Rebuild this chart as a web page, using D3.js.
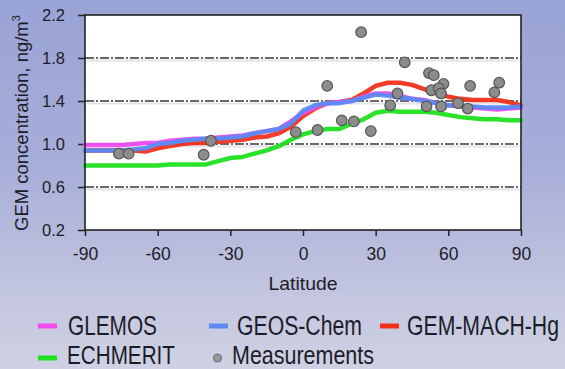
<!DOCTYPE html>
<html><head><meta charset="utf-8">
<script src="https://cdn.jsdelivr.net/npm/d3@7"></script>
<style>html,body{margin:0;padding:0;overflow:hidden;background:#aab0d8}svg{display:block}</style>
</head><body><svg id="c" width="565" height="369"></svg>
<script>
// ---- data ----
const latitudes = [-90,-85,-80,-75,-70,-65,-60,-55,-50,-45,-40,-35,-30,-25,-20,-15,-10,-5,0,5,10,15,20,25,30,35,40,45,50,55,60,65,70,75,80,85,90];
const glemos   = [0.99,0.99,0.99,0.99,1.00,1.01,1.01,1.03,1.04,1.05,1.05,1.06,1.07,1.08,1.10,1.12,1.14,1.21,1.29,1.34,1.38,1.39,1.40,1.44,1.47,1.47,1.45,1.42,1.41,1.38,1.36,1.35,1.34,1.33,1.32,1.33,1.34];
const geosChem = [0.94,0.94,0.94,0.94,0.95,0.96,1.00,1.01,1.03,1.04,1.05,1.05,1.06,1.07,1.10,1.12,1.14,1.19,1.31,1.36,1.38,1.38,1.40,1.43,1.46,1.45,1.43,1.42,1.40,1.38,1.36,1.35,1.35,1.34,1.34,1.34,1.35];
const gemMach  = [0.94,0.94,0.94,0.94,0.94,0.93,0.96,0.98,1.00,1.01,1.01,1.02,1.03,1.04,1.06,1.07,1.10,1.16,1.26,1.33,1.38,1.39,1.41,1.47,1.54,1.57,1.57,1.55,1.51,1.47,1.44,1.42,1.41,1.41,1.41,1.39,1.36];
const echmerit = [0.80,0.80,0.80,0.80,0.80,0.80,0.80,0.81,0.81,0.81,0.81,0.84,0.87,0.88,0.91,0.94,0.98,1.04,1.09,1.12,1.14,1.14,1.19,1.23,1.29,1.31,1.30,1.30,1.30,1.29,1.27,1.25,1.24,1.23,1.23,1.22,1.22];
const measLat  = [-76,-72,-41,-38,-3,6,10,16,21,24,28,36,39,42,52,54,58,53,56,57,51,57,64,68,69,79,81];
const measVal  = [0.91,0.91,0.90,1.03,1.11,1.13,1.54,1.22,1.21,2.04,1.12,1.36,1.47,1.76,1.66,1.64,1.56,1.50,1.52,1.47,1.35,1.35,1.38,1.33,1.54,1.48,1.57];
const xTicks = [-90,-60,-30,0,30,60,90];
const xTickLabels = ["-90","-60","-30","0","30","60","90"];
const yTicks = [0.2,0.6,1.0,1.4,1.8,2.2];
const yTickLabels = ["0.2","0.6","1.0","1.4","1.8","2.2"];
const gridVals = [0.6,1.0,1.4,1.8];
const seriesColors = {"GLEMOS":"#f04cf0","GEOS-Chem":"#5a8af2","GEM-MACH-Hg":"#f2301a","ECHMERIT":"#1fe01f"};

// ---- layout ----
const svg = d3.select("#c");
const W = 565, H = 369;
const L = 85, R = 521, T = 15, B = 230;
const FONT = "Liberation Sans, Arial, sans-serif";
const TXT = "#1c1c28";

const defs = svg.append("defs");
const bg = defs.append("linearGradient").attr("id","bg").attr("x1",0).attr("y1",0).attr("x2",0).attr("y2",1);
bg.append("stop").attr("offset","0%").attr("stop-color","#9aa3d6");
bg.append("stop").attr("offset","45%").attr("stop-color","#a7aed9");
bg.append("stop").attr("offset","80%").attr("stop-color","#c3c6df");
bg.append("stop").attr("offset","100%").attr("stop-color","#cfd1e3");
svg.append("rect").attr("width",W).attr("height",H).attr("fill","url(#bg)");

const x = d3.scaleLinear().domain([-90,90]).range([L,R]);
const y = d3.scaleLinear().domain([0.2,2.2]).range([B,T]);

// plot area
svg.append("rect").attr("x",L).attr("y",T).attr("width",R-L).attr("height",B-T).attr("fill","#ffffff");

// gridlines
const g = svg.append("g");
g.selectAll("line.sh").data(gridVals).enter().append("line")
  .attr("x1",L+2).attr("x2",R-2).attr("y1",d=>y(d)+2.5).attr("y2",d=>y(d)+2.5)
  .attr("stroke","#e4e4e8").attr("stroke-width",2);
g.selectAll("line.gr").data(gridVals).enter().append("line")
  .attr("x1",L).attr("x2",R).attr("y1",d=>y(d)).attr("y2",d=>y(d))
  .attr("stroke","#3a3a3a").attr("stroke-width",1.4).attr("stroke-dasharray","9,2,2,2");

// axes
const yAxis = d3.axisLeft(y).tickValues(yTicks).tickFormat((d,i)=>yTickLabels[i]).tickSize(7).tickPadding(13);
const xAxis = d3.axisBottom(x).tickValues(xTicks).tickFormat((d,i)=>xTickLabels[i]).tickSize(6).tickPadding(11);
const ya = svg.append("g").attr("transform",`translate(${L},0)`).call(yAxis);
const xa = svg.append("g").attr("transform",`translate(0,${B})`).call(xAxis);
[ya,xa].forEach(a=>{
  a.select(".domain").remove();
  a.selectAll(".tick line").attr("stroke","#222").attr("stroke-width",1.5);
  a.selectAll(".tick text").attr("fill",TXT).attr("font-family",FONT);
});
ya.selectAll(".tick text").attr("font-size",16.5).attr("dy","0.36em");
xa.selectAll(".tick text").attr("font-size",17.5).attr("dy","0.72em");

// lines
const line = d3.line().x((d,i)=>x(latitudes[i])).y(d=>y(d)).curve(d3.curveLinear);
const drawOrder = [["ECHMERIT",echmerit],["GEM-MACH-Hg",gemMach],["GLEMOS",glemos],["GEOS-Chem",geosChem]];
const lg = svg.append("g");
drawOrder.forEach(([name,vals])=>{
  lg.append("path").datum(vals).attr("d",line).attr("fill","none")
    .attr("stroke",seriesColors[name]).attr("stroke-width",4.5)
    .attr("stroke-linejoin","round").attr("stroke-linecap","round").attr("opacity",0.95);
});

// measurements
svg.append("g").selectAll("circle").data(measLat.map((d,i)=>[d,measVal[i]])).enter().append("circle")
  .attr("cx",d=>x(d[0])).attr("cy",d=>y(d[1])).attr("r",5.3)
  .attr("fill","#8c8c8c").attr("stroke","#555").attr("stroke-width",1.2);

// frame
svg.append("rect").attr("x",L).attr("y",T).attr("width",R-L).attr("height",B-T)
  .attr("fill","none").attr("stroke","#222").attr("stroke-width",1.6);

// condensed text helper (horizontal scale only)
function narrowText(parent, txt, tx, base, size, targetW, anchor) {
  const gg = parent.append("g");
  const t = gg.append("text").attr("font-family",FONT).attr("font-size",size).attr("fill",TXT)
    .attr("text-anchor",anchor||"start").text(txt);
  const nat = t.node().getComputedTextLength();
  const sx = targetW / nat;
  gg.attr("transform",`translate(${tx},${base}) scale(${sx},1)`);
  return gg;
}

// axis titles
narrowText(svg, "Latitude", 303, 290, 19, 69, "middle");
const yt = svg.append("text").attr("transform","translate(28,231) rotate(-90)")
  .attr("font-family",FONT).attr("font-size",18.5).attr("fill",TXT);
yt.append("tspan").text("GEM concentration, ng/m");
yt.append("tspan").attr("font-size",11).attr("dy",-8).text("3");

// legend
const leg = svg.append("g");
const legItems = [
  {name:"GLEMOS", sx:38, row:0, tx:68, tw:89},
  {name:"GEOS-Chem", sx:209, row:0, tx:237, tw:125},
  {name:"GEM-MACH-Hg", sx:380, row:0, tx:407, tw:152},
  {name:"ECHMERIT", sx:38, row:1, tx:67, tw:108},
  {name:"Measurements", sx:217.5, row:1, tx:232, tw:142}
];
const rowSw = [326, 358], rowBase = [335, 363.5];
const rowSize = [27, 25.5];
legItems.forEach(it=>{
  if (it.name === "Measurements") {
    leg.append("circle").attr("cx",it.sx).attr("cy",rowSw[it.row]).attr("r",4)
      .attr("fill","#9a9a9a").attr("stroke","#666").attr("stroke-width",1);
  } else {
    leg.append("line").attr("x1",it.sx).attr("x2",it.sx+19).attr("y1",rowSw[it.row]).attr("y2",rowSw[it.row])
      .attr("stroke",seriesColors[it.name]).attr("stroke-width",5);
  }
  narrowText(leg, it.name, it.tx, rowBase[it.row], rowSize[it.row], it.tw);
});
</script></body></html>
